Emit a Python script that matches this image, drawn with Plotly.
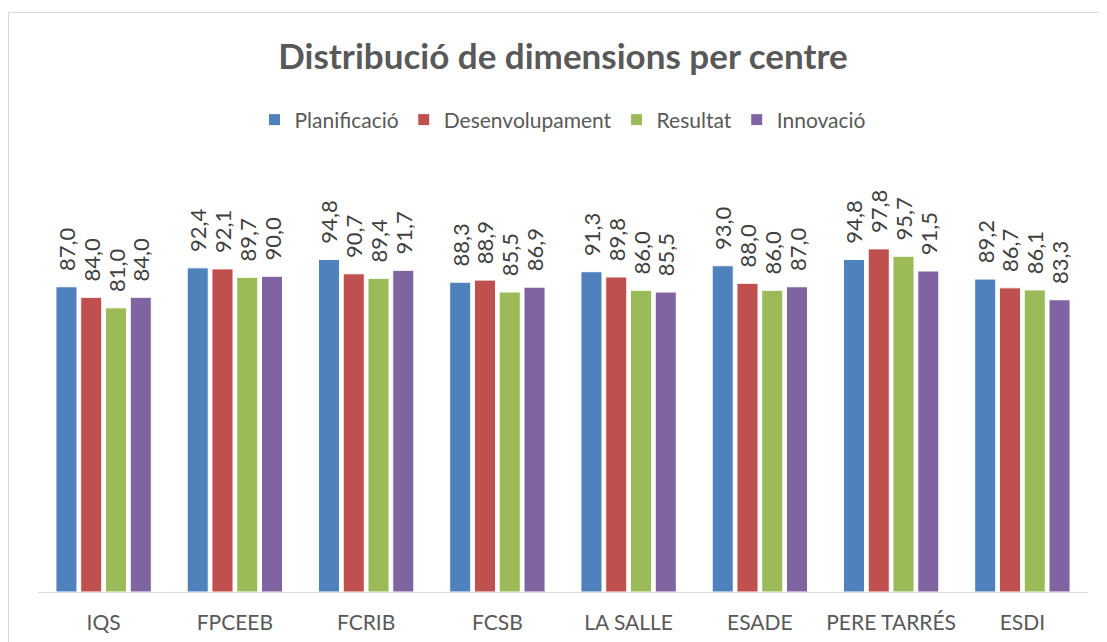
import plotly.graph_objects as go

centres = ["IQS", "FPCEEB", "FCRIB", "FCSB", "LA SALLE", "ESADE", "PERE TARRÉS", "ESDI"]
planificacio = [87.0, 92.4, 94.8, 88.3, 91.3, 93.0, 94.8, 89.2]
desenvolupament = [84.0, 92.1, 90.7, 88.9, 89.8, 88.0, 97.8, 86.7]
resultat = [81.0, 89.7, 89.4, 85.5, 86.0, 86.0, 95.7, 86.1]
innovacio = [84.0, 90.0, 91.7, 86.9, 85.5, 87.0, 91.5, 83.3]

series = [
    ("Planificació", planificacio, "#4F81BD"),
    ("Desenvolupament", desenvolupament, "#C0504D"),
    ("Resultat", resultat, "#9BBB59"),
    ("Innovació", innovacio, "#8064A2"),
]

FONT = "Lato"
# page has an 8px body margin; figure is offset by it
W, H = 1099, 634
L, R, T, B = 30, 19, 163, 50
PW = W - L - R
PH = H - T - B

fig = go.Figure()
for name, vals, col in series:
    fig.add_trace(go.Bar(
        x=centres, y=vals, name=name,
        marker=dict(color=col, line=dict(color="white", width=1)),
        texttemplate='<span style="color:rgba(0,0,0,0)">0</span>%{y:.1f}',
        textposition="outside", textangle=-90, constraintext="none",
        textfont=dict(family=FONT, size=22, color="#404040"),
        cliponaxis=False,
    ))

fig.update_layout(
    width=W, height=H,
    separators=",.",
    paper_bgcolor="white", plot_bgcolor="white",
    margin=dict(l=L, r=R, t=T, b=B, autoexpand=False),
    barmode="group", bargap=0.245, bargroupgap=0.15,
    title=dict(text="<b>Distribució de dimensions per centre</b>",
               x=(563 - 8) / W, xanchor="center", y=1 - (57 - 8) / H, yanchor="middle",
               font=dict(family=FONT, size=35, color="#595959")),
    legend=dict(orientation="h", x=0.5, xanchor="center",
                y=(PH + T - (120 - 8)) / PH, yanchor="middle",
                font=dict(family=FONT, size=21, color="#595959"),
                itemwidth=30, bgcolor="rgba(0,0,0,0)"),
    xaxis=dict(showline=True, linecolor="#d9d9d9", linewidth=1, ticks="",
               tickfont=dict(family=FONT, size=21, color="#595959"),
               ticklabelstandoff=12, showgrid=False, automargin=False),
    yaxis=dict(range=[0, 120], visible=False, showgrid=False, automargin=False),
    shapes=[dict(type="rect", xref="paper", yref="paper",
                 x0=(0.5 - L) / PW, x1=(W + 10 - L) / PW,
                 y0=(T + PH - (H + 10)) / PH, y1=(T + PH - 4.5) / PH,
                 line=dict(color="#d9d9d9", width=1), fillcolor="rgba(0,0,0,0)",
                 layer="below")],
)

fig.write_html("out.html")
